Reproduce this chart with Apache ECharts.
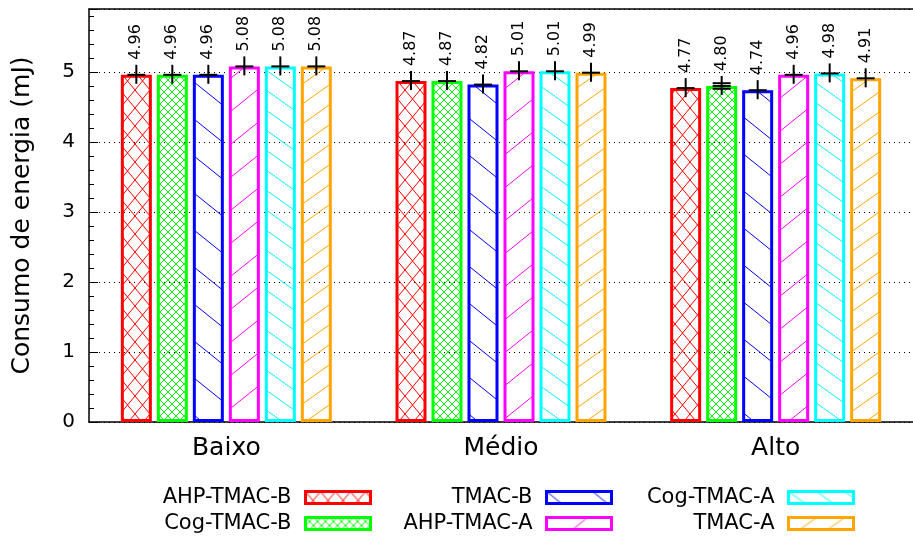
<!DOCTYPE html>
<html><head><meta charset="utf-8">
<script src="https://cdn.jsdelivr.net/npm/echarts@6/dist/echarts.min.js"></script>
<style>html,body{margin:0;padding:0;background:#fff}#c{width:913px;height:536px}</style>
</head><body><div id="c"></div>
<script>
const categories = ['Baixo', 'Médio', 'Alto'];
const seriesNames = ['AHP-TMAC-B', 'Cog-TMAC-B', 'TMAC-B', 'AHP-TMAC-A', 'Cog-TMAC-A', 'TMAC-A'];
const ahpTmacB = [4.96, 4.87, 4.77];
const cogTmacB = [4.96, 4.87, 4.80];
const tmacB    = [4.96, 4.82, 4.74];
const ahpTmacA = [5.08, 5.01, 4.96];
const cogTmacA = [5.08, 5.01, 4.98];
const tmacA    = [5.08, 4.99, 4.91];
const errAhpTmacB = [0.01, 0.01, 0.01];
const errCogTmacB = [0.01, 0.01, 0.04];
const errTmacB    = [0.01, 0.01, 0.01];
const errAhpTmacA = [0.01, 0.01, 0.01];
const errCogTmacA = [0.01, 0.01, 0.01];
const errTmacA    = [0.01, 0.01, 0.01];
const yTicks = [0, 1, 2, 3, 4, 5];

const values = [ahpTmacB, cogTmacB, tmacB, ahpTmacA, cogTmacA, tmacA];
const errors = [errAhpTmacB, errCogTmacB, errTmacB, errAhpTmacA, errCogTmacA, errTmacA];
const colors = ['#ff0000', '#00ff00', '#0000ff', '#ff00ff', '#00ffff', '#ffa500'];

function makePattern(color, kind, w, h) {
  const c = document.createElement('canvas');
  c.width = w; c.height = h;
  const g = c.getContext('2d');
  g.strokeStyle = color; g.lineWidth = 1;
  function seg(x1, y1, x2, y2) {
    for (let dx = -w; dx <= w; dx += w) for (let dy = -h; dy <= h; dy += h) {
      g.beginPath(); g.moveTo(x1 + dx, y1 + dy); g.lineTo(x2 + dx, y2 + dy); g.stroke();
    }
  }
  if (kind === 'cross' || kind === 'back') seg(0, 0, w, h);
  if (kind === 'cross' || kind === 'fwd') seg(0, h, w, 0);
  return { image: c, repeat: 'repeat' };
}
const patterns = [
  makePattern(colors[0], 'cross', 15, 18),
  makePattern(colors[1], 'cross', 8, 8),
  makePattern(colors[2], 'back', 46, 37),
  makePattern(colors[3], 'fwd', 41, 33),
  makePattern(colors[4], 'back', 28, 20),
  makePattern(colors[5], 'fwd', 28, 20)
];

const FONT = 'DejaVu Sans';
const BAR_W = 31, BAR_GAP = 5;

const barSeries = seriesNames.map((name, i) => ({
  name, type: 'bar', barWidth: BAR_W, barGap: (BAR_GAP / BAR_W * 100) + '%',
  data: values[i],
  itemStyle: { color: patterns[i], borderColor: colors[i], borderWidth: 3 },
  label: {
    show: true, position: 'top', rotate: 90, distance: 15, align: 'left', verticalAlign: 'middle',
    fontFamily: FONT, fontSize: 16, color: '#000',
    formatter: p => p.value.toFixed(2)
  },
  z: 2
}));

const errData = [];
values.forEach((arr, si) => arr.forEach((v, ci) => errData.push([ci, si, v, errors[si][ci]])));

const errSeries = {
  type: 'custom', name: 'err', data: errData, z: 5, silent: true,
  renderItem: function (params, api) {
    const ci = api.value(0), si = api.value(1), v = api.value(2), e = api.value(3);
    const pitch = BAR_W + BAR_GAP;
    const off = (si - (seriesNames.length - 1) / 2) * pitch;
    const c = api.coord([ci, v]);
    const lo = api.coord([ci, v - e]);
    const hi = api.coord([ci, v + e]);
    const x = c[0] + off;
    const st = { stroke: '#000', lineWidth: 2 };
    const ch = [];
    ch.push({ type: 'line', shape: { x1: x, y1: c[1] - 10, x2: x, y2: c[1] + 9 }, style: st });
    ch.push({ type: 'line', shape: { x1: x - 9, y1: c[1], x2: x + 9, y2: c[1] }, style: st });
    if (Math.abs(lo[1] - hi[1]) > 3) {
      ch.push({ type: 'line', shape: { x1: x - 9, y1: lo[1], x2: x + 9, y2: lo[1] }, style: st });
      ch.push({ type: 'line', shape: { x1: x - 9, y1: hi[1], x2: x + 9, y2: hi[1] }, style: st });
    }
    return { type: 'group', children: ch };
  }
};

function legendFor(names, right) {
  return {
    orient: 'vertical', align: 'right', right: right, top: 487, padding: 0,
    itemWidth: 65, itemHeight: 12, itemGap: 5,
    icon: 'rect',
    textStyle: { fontFamily: FONT, fontSize: 21, color: '#000', padding: [0, 9, 0, 0] },
    data: names.map(n => {
      const i = seriesNames.indexOf(n);
      return { name: n, itemStyle: { borderColor: colors[i], borderWidth: 3, color: patterns[i] } };
    })
  };
}

const chart = echarts.init(document.getElementById('c'), null, { renderer: 'canvas' });
chart.setOption({
  animation: false,
  backgroundColor: '#fff',
  grid: { left: 89, right: -10, top: 9, bottom: 114 },
  legend: [
    legendFor([seriesNames[0], seriesNames[1]], 541),
    legendFor([seriesNames[2], seriesNames[3]], 300),
    legendFor([seriesNames[4], seriesNames[5]], 58)
  ],
  xAxis: [{
    type: 'category', data: categories, position: 'bottom',
    axisLine: { lineStyle: { color: '#000', width: 1.5 } },
    axisTick: { inside: true, alignWithLabel: true, length: 9, lineStyle: { color: '#000' } },
    axisLabel: { fontFamily: FONT, fontSize: 25, color: '#000', margin: 14 }
  }, {
    type: 'category', data: categories, position: 'top',
    axisLine: { lineStyle: { color: '#000', width: 1.5 } },
    axisTick: { inside: true, alignWithLabel: true, length: 9, lineStyle: { color: '#000' } },
    axisLabel: { show: false }
  }],
  yAxis: {
    type: 'value', min: yTicks[0], max: 5.9, interval: 1,
    name: 'Consumo de energia (mJ)', nameLocation: 'middle', nameGap: 54,
    nameTextStyle: { fontFamily: FONT, fontSize: 25, color: '#000' },
    axisLine: { show: true, lineStyle: { color: '#000', width: 1.5 } },
    axisTick: { show: true, inside: true, length: 9, lineStyle: { color: '#000' } },
    minorTick: { show: true, splitNumber: 5, length: 5, lineStyle: { color: '#000' } },
    axisLabel: { fontFamily: FONT, fontSize: 20, color: '#000', margin: 14, showMaxLabel: false },
    splitLine: { show: true, lineStyle: { color: '#000', type: [1, 4], width: 1 } }
  },
  series: [...barSeries, errSeries]
});
</script></body></html>
